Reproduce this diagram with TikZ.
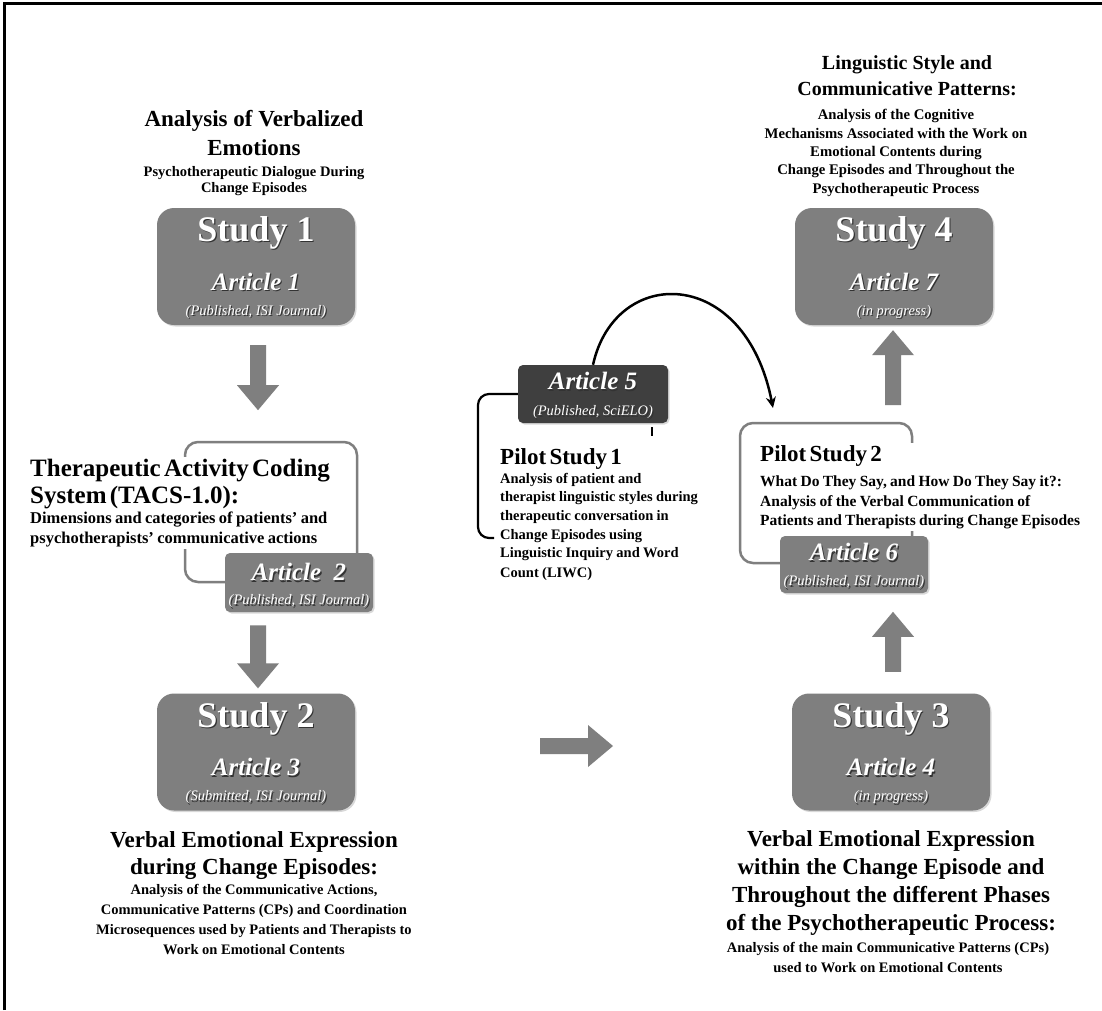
\documentclass[tikz,border=0pt]{standalone}
\usepackage{fontspec}
\setmainfont{Liberation Serif}
\usetikzlibrary{calc,shadows,arrows.meta}
\definecolor{boxgray}{HTML}{7F7F7F}
\definecolor{darkbox}{HTML}{3F3F3F}
\newcommand\shtxt[1]{\leavevmode\rlap{\kern1.2pt\raisebox{-1.2pt}{\textcolor{black!80}{#1}}}#1}
\newcommand\blockarr[2]{%
  \coordinate (bah) at ($(#2)!25pt!(#1)$);
  \fill[boxgray] ($(#1)!8pt!90:(#2)$) -- ($(bah)!8pt!90:(#2)$) -- ($(bah)!21pt!90:(#2)$) -- (#2)
    -- ($(bah)!21pt!-90:(#2)$) -- ($(bah)!8pt!-90:(#2)$) -- ($(#1)!8pt!-90:(#2)$) -- cycle;}
\begin{document}
\begin{tikzpicture}[x=1pt,y=-1pt,
  bigbox/.style={fill=boxgray, rounded corners=17pt, minimum width=198pt, minimum height=117pt, inner sep=0pt,
    drop shadow={shadow xshift=1.5pt, shadow yshift=-1.5pt, opacity=0.3, fill=black!50}},
  artbox/.style={fill=boxgray, rounded corners=5pt, minimum width=148pt, minimum height=58pt, inner sep=0pt,
    drop shadow={shadow xshift=1.5pt, shadow yshift=-1.5pt, opacity=0.3, fill=black!50}},
  studylbl/.style={text=white, inner sep=0pt, font=\fontsize{36}{40}\selectfont\bfseries},
  artlbl/.style={text=white, inner sep=0pt, font=\fontsize{25}{28}\selectfont\bfseries\itshape},
  publbl/.style={text=white, inner sep=0pt, font=\fontsize{14.5}{16}\selectfont\itshape},
  hfont/.style 2 args={font=\fontsize{#1}{#2}\selectfont\bfseries},
  ctext/.style={align=center, inner sep=1pt},
  ltext/.style={align=left, fill=white, inner sep=2pt, anchor=west, font=\bfseries},
  graybr/.style={draw=boxgray, line width=2.5pt, rounded corners=13pt, inner sep=0pt},
  blackbr/.style={draw=black, line width=2.2pt, rounded corners=11pt},
  curvearr/.style={draw=black, line width=2.5pt, -{Stealth[length=11pt, width=10pt]}}
]
\useasboundingbox (0,0) rectangle (1102,1010);
\fill[white] (0,0) rectangle (1102,1010);
\draw[line width=3pt] (4.5,1010) -- (4.5,3.5) -- (1102,3.5);

% brackets behind text
\node[graybr, minimum width=172pt, minimum height=140pt] (br2) at (271,512) {};
\node[graybr, minimum width=172pt, minimum height=140pt] (br6) at (826,493) {};

% centered text blocks
\node[ctext, hfont={23}{29}] (t1) at (254,133.5) {Analysis of Verbalized\\Emotions};
\node[ctext, hfont={14.5}{16}] (t1s) at (254,181.5) {Psychotherapeutic Dialogue During\\Change Episodes};

\node[ctext, hfont={20}{26}] (t4) at (907,76) {Linguistic Style and\\Communicative Patterns:};
\node[ctext, hfont={14.7}{18.4}] (t4s) at (896,153) {Analysis of the Cognitive\\Mechanisms Associated with the Work on\\Emotional Contents during\\Change Episodes and Throughout the\\Psychotherapeutic Process};

\node[ctext, hfont={23}{27}] (t3) at (254,856) {Verbal Emotional Expression\\during Change Episodes:};
\node[ctext, hfont={14.5}{20}] (t3s) at (254,919) {Analysis of the Communicative Actions,\\Communicative Patterns (CPs) and Coordination\\Microsequences used by Patients and Therapists to\\Work on Emotional Contents};

\node[ctext, hfont={23}{28}] (t5) at (891,883) {Verbal Emotional Expression\\within the Change Episode and\\Throughout the different Phases\\of the Psychotherapeutic Process:};
\node[ctext, hfont={14.5}{20}] (t5s) at (888,957) {Analysis of the main Communicative Patterns (CPs)\\used to Work on Emotional Contents};

% left aligned text blocks (cover brackets)
\node[ltext, text width=320pt] (t2) at (28,503) {%
  {\fontsize{25}{27}\selectfont Therapeutic Activity Coding\\ System (TACS-1.0):\par}%
  {\fontsize{16.5}{20}\selectfont Dimensions and categories of patients’ and\\ psychotherapists’ communicative actions\par}};

\node[ltext, text width=215pt] (p1) at (498,514.5) {%
  {\fontsize{23}{26}\selectfont Pilot Study 1\par}%
  {\fontsize{14.5}{18.6}\selectfont Analysis of patient and\\ therapist linguistic styles during\\ therapeutic conversation in\\ Change Episodes using\\ Linguistic Inquiry and Word\\[1pt] Count (LIWC)\par}};

\node[ltext, text width=335pt] (p2) at (758,487) {%
  {\fontsize{23}{26}\selectfont Pilot Study 2\par}\vspace{6pt}%
  {\fontsize{15.5}{19.5}\selectfont What Do They Say, and How Do They Say it?:\\ Analysis of the Verbal Communication of\\ Patients and Therapists during Change Episodes\par}};

% study boxes
\node[bigbox] (s1) at (256,266.5) {};
\node[studylbl] (s1l) at ($(s1.center)+(0,-33)$) {\shtxt{Study 1}};
\node[artlbl] (s1a) at ($(s1.center)+(0,16)$) {\shtxt{Article 1}};
\node[publbl] (s1p) at ($(s1.center)+(0,46)$) {\shtxt{(Published, ISI Journal)}};

\node[bigbox] (s2) at (256,752) {};
\node[studylbl] (s2l) at ($(s2.center)+(0,-33)$) {\shtxt{Study 2}};
\node[artlbl] (s2a) at ($(s2.center)+(0,16)$) {\shtxt{Article 3}};
\node[publbl] (s2p) at ($(s2.center)+(0,46)$) {\shtxt{(Submitted, ISI Journal)}};

\node[bigbox] (s3) at (891,752) {};
\node[studylbl] (s3l) at ($(s3.center)+(0,-33)$) {\shtxt{Study 3}};
\node[artlbl] (s3a) at ($(s3.center)+(0,16)$) {\shtxt{Article 4}};
\node[publbl] (s3p) at ($(s3.center)+(0,46)$) {\shtxt{(in progress)}};

\node[bigbox] (s4) at (894,266.5) {};
\node[studylbl] (s4l) at ($(s4.center)+(0,-33)$) {\shtxt{Study 4}};
\node[artlbl] (s4a) at ($(s4.center)+(0,16)$) {\shtxt{Article 7}};
\node[publbl] (s4p) at ($(s4.center)+(0,46)$) {\shtxt{(in progress)}};

% article boxes
\node[artbox, minimum height=59pt] (a2) at (299,582.5) {};
\node[artlbl] (a2a) at ($(a2.center)+(0,-9.5)$) {\shtxt{Article\ \ 2}};
\node[publbl] (a2p) at ($(a2.center)+(0,19.5)$) {\shtxt{(Published, ISI Journal)}};

\node[artbox, minimum height=57pt] (a6) at (854,564.5) {};
\node[artlbl] (a6a) at ($(a6.center)+(0,-11.5)$) {\shtxt{Article 6}};
\node[publbl] (a6p) at ($(a6.center)+(0,18.5)$) {\shtxt{(Published, ISI Journal)}};

% black bracket of pilot study 1
\draw[blackbr] (518,394) -- (478,394) -- (478,538) -- (494,538);
\node[artbox, fill=darkbox, minimum width=150pt] (a5) at (593,394) {};
\node[artlbl] (a5a) at ($(a5.center)+(0,-12)$) {\shtxt{Article 5}};
\node[publbl] (a5p) at ($(a5.center)+(0,19)$) {\shtxt{(Published, SciELO)}};
\draw[line width=2pt] ($(a5.south east)+(-16,4)$) -- ++(0,9);

% block arrows
\coordinate (d1a) at ($(s1.south)+(2,20)$);
\coordinate (d1b) at ($(s1.south)+(2,85)$);
\blockarr{d1a}{d1b}
\coordinate (d2a) at ($(s2.north)+(2,-68)$);
\coordinate (d2b) at ($(s2.north)+(2,-5)$);
\blockarr{d2a}{d2b}
\coordinate (r1a) at (540,746);
\coordinate (r1b) at (613,746);
\blockarr{r1a}{r1b}
\coordinate (u1a) at ($(s4.south)+(-1,80)$);
\coordinate (u1b) at ($(s4.south)+(-1,5)$);
\blockarr{u1a}{u1b}
\coordinate (u2a) at ($(s3.north)+(2,-21.5)$);
\coordinate (u2b) at ($(s3.north)+(2,-81.5)$);
\blockarr{u2a}{u2b}

% curved arrow
\coordinate (ctip) at (773,408);
\draw[curvearr] (a5.north) .. controls (615,265) and (745,265) .. (ctip);
\end{tikzpicture}
\end{document}
